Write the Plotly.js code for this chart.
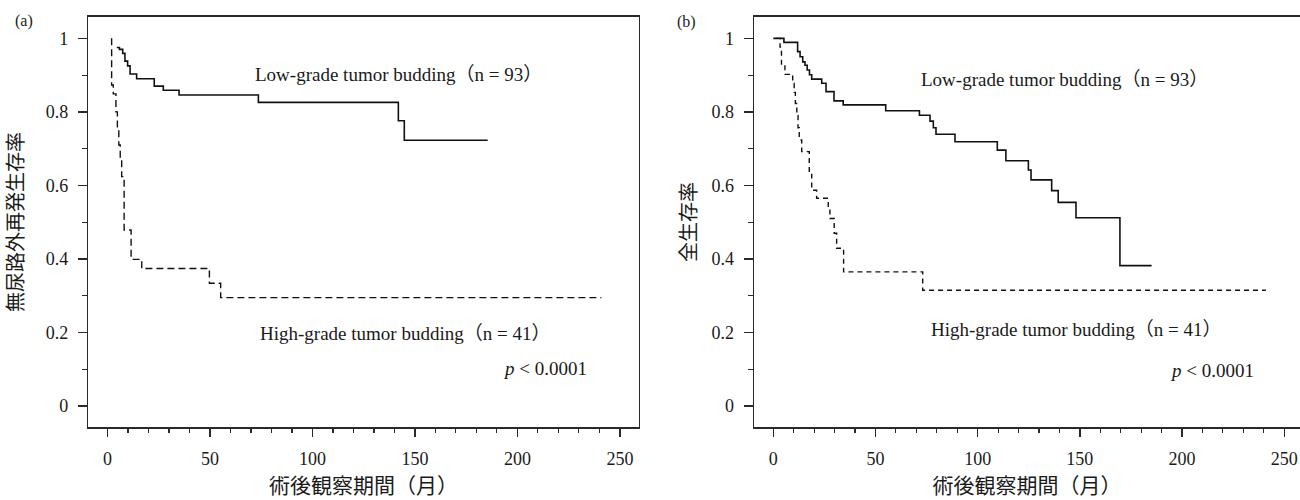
<!DOCTYPE html>
<html>
<head>
<meta charset="utf-8">
<script src="https://cdn.plot.ly/plotly-3.0.1.min.js"></script>
<style>html,body{margin:0;padding:0;background:#fff;}#chart{width:1300px;height:500px;}</style>
</head>
<body>
<div id="chart"></div>
<script>
// ---- data ----
// Panel (a): 無尿路外再発生存率 (extra-urinary recurrence-free survival)
const aLowT  = [4.5, 5.8, 7.4, 8.5, 9.8, 11.0, 14.2, 22.8, 27.2, 34.9, 73.6, 141.9, 144.8, 185.5];
const aLowS  = [0.975, 0.970, 0.959, 0.938, 0.925, 0.903, 0.890, 0.870, 0.859, 0.846, 0.826, 0.776, 0.723, 0.723];
const aHighT = [2.0, 2.0, 2.8, 4.1, 4.8, 5.5, 6.2, 6.9, 8.1, 11.5, 16.7, 49.7, 55.2, 241.0];
const aHighS = [1.0, 0.873, 0.849, 0.800, 0.756, 0.710, 0.670, 0.624, 0.479, 0.399, 0.374, 0.334, 0.295, 0.295];

// Panel (b): 全生存率 (overall survival)
const bLowT  = [0, 5.2, 11.9, 13.1, 14.4, 15.5, 16.6, 17.7, 18.8, 23.7, 25.8, 29.7, 34.2, 55.0, 71.5, 76.7, 78.3, 79.6, 88.9, 109.6, 113.8, 124.8, 126.1, 136.2, 139.4, 148.1, 169.6, 185.1];
const bLowS  = [1.0, 0.989, 0.964, 0.950, 0.936, 0.927, 0.914, 0.901, 0.889, 0.878, 0.855, 0.830, 0.819, 0.803, 0.791, 0.775, 0.757, 0.739, 0.719, 0.696, 0.667, 0.642, 0.615, 0.586, 0.554, 0.512, 0.382, 0.382];
const bHighT = [1.3, 3.3, 4.0, 5.7, 9.5, 10.2, 10.8, 11.5, 12.1, 12.7, 13.9, 17.6, 18.8, 21.2, 26.9, 27.7, 29.8, 31.0, 34.4, 73.1, 241.0];
const bHighS = [1.0, 0.976, 0.927, 0.902, 0.878, 0.853, 0.823, 0.790, 0.757, 0.724, 0.692, 0.630, 0.587, 0.565, 0.537, 0.510, 0.470, 0.429, 0.365, 0.315, 0.315];

// ---- tick labels / texts ----
const xTickVals = [0, 50, 100, 150, 200, 250];
const xTickText = ['0', '50', '100', '150', '200', '250'];
const yTickVals = [0, 0.2, 0.4, 0.6, 0.8, 1];
const yTickText = ['0', '0.2', '0.4', '0.6', '0.8', '1'];
const xTitle = '術後観察期間（月）';
const yTitleA = '無尿路外再発生存率';
const yTitleB = '全生存率';
const lowLabel = 'Low-grade tumor budding（n = 93）';
const highLabel = 'High-grade tumor budding（n = 41）';
const pLabel = '<i>p</i> &lt; 0.0001';

// ---- styling ----
const SERIF = '"Liberation Serif", "DejaVu Serif", "Noto Sans CJK JP", serif';
const CJK = '"Noto Sans CJK JP", sans-serif';
const INK = '#1a1a1a';
const AX = '#2a2a2a';

function xAxis(domain, yref) {
  return {
    domain: domain, range: [-9.4, 259.3], anchor: yref,
    showline: true, mirror: true, linecolor: AX, linewidth: 1.5,
    ticks: 'outside', ticklen: 8, tickwidth: 1.3, tickcolor: AX,
    tickmode: 'array', tickvals: xTickVals, ticktext: xTickText,
    minor: {tick0: 0, dtick: 10, ticks: 'outside', ticklen: 4, tickwidth: 1.1, tickcolor: AX, showgrid: false},
    showgrid: false, zeroline: false,
    tickfont: {family: SERIF, size: 18, color: INK},
    ticklabelstandoff: 7,
    title: {text: xTitle, font: {family: CJK, size: 21, color: INK}, standoff: 9}
  };
}
function yAxis(domain, xref, title, standoff, mirror) {
  return {
    domain: domain, range: [-0.0577, 1.0594], anchor: xref,
    showline: true, mirror: mirror, linecolor: AX, linewidth: 1.5,
    ticks: 'outside', ticklen: 9, tickwidth: 1.3, tickcolor: AX,
    tickmode: 'array', tickvals: yTickVals, ticktext: yTickText,
    minor: {tick0: 0, dtick: 0.1, ticks: 'outside', ticklen: 5, tickwidth: 1.1, tickcolor: AX, showgrid: false},
    showgrid: false, zeroline: false,
    tickfont: {family: SERIF, size: 18, color: INK},
    ticklabelstandoff: 6,
    title: {text: title, font: {family: CJK, size: 20, color: INK}, standoff: standoff}
  };
}

const traces = [
  {x: aLowT, y: aLowS, xaxis: 'x', yaxis: 'y', mode: 'lines', line: {shape: 'hv', color: '#111', width: 1.6}, hoverinfo: 'skip'},
  {x: aHighT, y: aHighS, xaxis: 'x', yaxis: 'y', mode: 'lines', line: {shape: 'hv', color: '#111', width: 1.4, dash: '7px,4px'}, hoverinfo: 'skip'},
  {x: bLowT, y: bLowS, xaxis: 'x2', yaxis: 'y2', mode: 'lines', line: {shape: 'hv', color: '#111', width: 1.6}, hoverinfo: 'skip'},
  {x: bHighT, y: bHighS, xaxis: 'x2', yaxis: 'y2', mode: 'lines', line: {shape: 'hv', color: '#111', width: 1.4, dash: '5px,4px'}, hoverinfo: 'skip'}
];

const annFont = {family: SERIF, size: 19, color: INK};
function ann(xr, yr, x, y, text) {
  return {xref: xr, yref: yr, x: x, y: y, text: text, showarrow: false, font: annFont, xanchor: 'center', yanchor: 'middle'};
}

const layout = {
  width: 1300, height: 500,
  margin: {l: 0, r: 0, t: 0, b: 0},
  paper_bgcolor: '#fff', plot_bgcolor: '#fff',
  showlegend: false,
  xaxis: xAxis([0.0679, 0.4915], 'y'),
  yaxis: yAxis([0.1454, 0.967], 'x', yTitleA, 18, true),
  xaxis2: Object.assign(xAxis([0.58, 1.0], 'y2'), {range: [-9.44, 257.7]}),
  yaxis2: yAxis([0.1454, 0.967], 'x2', yTitleB, 9, false),
  annotations: [
    ann('x', 'y', 142, 0.903, lowLabel),
    ann('x', 'y', 145, 0.198, highLabel),
    ann('x', 'y', 213.6, 0.102, pLabel),
    ann('x2', 'y2', 142.6, 0.889, lowLabel),
    ann('x2', 'y2', 148, 0.209, highLabel),
    ann('x2', 'y2', 214.5, 0.098, pLabel),
    {xref: 'paper', yref: 'paper', x: 24 / 1300, y: 1 - 21 / 500, text: '(a)', showarrow: false, xanchor: 'center', yanchor: 'middle', font: {family: SERIF, size: 16, color: INK}},
    {xref: 'paper', yref: 'paper', x: 686 / 1300, y: 1 - 22 / 500, text: '(b)', showarrow: false, xanchor: 'center', yanchor: 'middle', font: {family: SERIF, size: 16, color: INK}}
  ]
};

Plotly.newPlot('chart', traces, layout, {displayModeBar: false, staticPlot: true});
</script>
</body>
</html>
